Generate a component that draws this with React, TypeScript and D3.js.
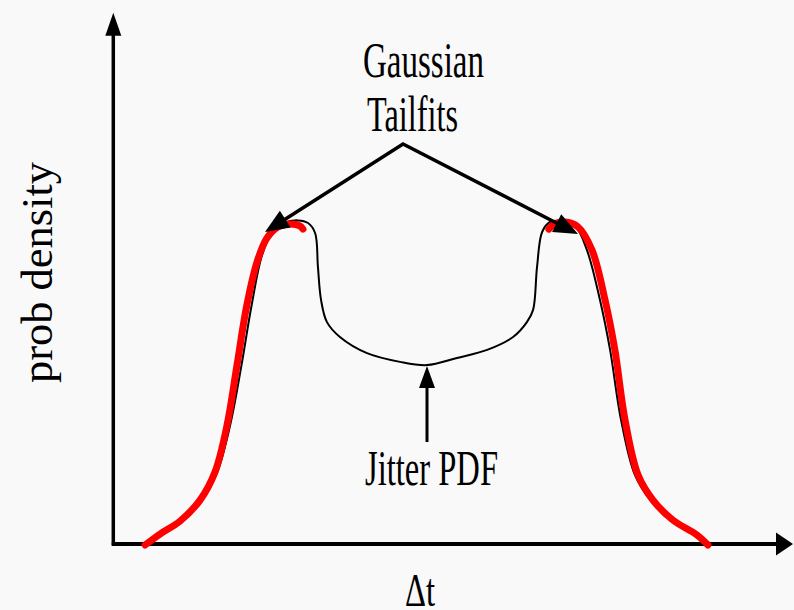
import React from "react";
import * as d3 from "d3";

// Jitter PDF (black) – x in Δt units (-100..100), y in relative density (0..100)
const jitterX = [-99.0, -94.0, -87.0, -79.6, -74.2, -69.6, -65.6, -62.0, -58.3, -54.8, -50.5, -45.6, -42.0, -39.5, -38.5, -37.4, -35.3, -30.7, -21.1, -9.4, 0.2, 10.8, 21.5, 30.7, 35.6, 37.8, 39.2, 41.0, 43.8, 48.0, 52.7, 56.9, 61.5, 65.1, 69.0, 73.9, 79.4, 86.6, 94.8, 99.0];
const jitterY = [0, 3.4, 7.4, 13.9, 22.6, 37.2, 55.7, 74.3, 89.8, 96.6, 99.7, 100.5, 99.7, 96.6, 86.1, 75.9, 69.0, 64.4, 59.4, 56.7, 55.7, 57.9, 60.4, 64.4, 69.0, 72.8, 86.1, 96.9, 100, 100.3, 98.8, 91.3, 75.9, 60.4, 38.7, 21.7, 13.9, 7.7, 3.1, 0];

// Gaussian tail fits (red)
const leftTailX = [-99.8, -94.5, -87.4, -80.3, -75.0, -70.7, -67.2, -63.7, -60.1, -56.6, -52.7, -48.4, -44.9, -43.8];
const leftTailY = [0, 3.4, 7.4, 13.9, 22.6, 37.2, 55.7, 74.3, 87.6, 95.0, 98.5, 99.4, 98.8, 97.8];
const rightTailX = [43.4, 44.9, 49.1, 53.7, 58.7, 63.3, 66.8, 70.4, 75.0, 80.3, 87.4, 95.9, 99.8];
const rightTailY = [97.8, 99.1, 100, 98.5, 91.3, 75.9, 60.4, 38.7, 21.7, 13.9, 7.7, 3.1, 0];

const labels = {
  gauss1: "Gaussian",
  gauss2: "Tailfits",
  jitter: "Jitter PDF",
  xAxis: "Δt",
  yAxis: "prob density",
};

const W = 794;
const H = 610;

const x = d3.scaleLinear().domain([-100, 100]).range([144.5, 708.5]);
const y = d3.scaleLinear().domain([0, 100]).range([545, 222]);

type P = [number, number];

function zipPts(xs: number[], ys: number[]): P[] {
  return xs.map((v, i) => [v, ys[i]] as P);
}

const line = d3
  .line<P>()
  .x((d) => x(d[0]))
  .y((d) => y(d[1]))
  .curve(d3.curveCatmullRom.alpha(0.5));

function arrow(from: P, to: P, len: number, width: number) {
  const dx = to[0] - from[0];
  const dy = to[1] - from[1];
  const L = Math.hypot(dx, dy);
  const ux = dx / L;
  const uy = dy / L;
  const bx = to[0] - ux * len;
  const by = to[1] - uy * len;
  const px = -uy * (width / 2);
  const py = ux * (width / 2);
  const poly = `${to[0]},${to[1]} ${bx + px},${by + py} ${bx - px},${by - py}`;
  return { base: [bx + ux * 2, by + uy * 2] as P, poly };
}

export default function App() {
  const ox = 113.3;
  const oy = 544;
  const yTop: P = [ox, 12.7];
  const xEnd: P = [793, oy];
  const yArrow = arrow([ox, oy], yTop, 23, 16);
  const xArrow = arrow([ox, oy], xEnd, 17, 23);

  const apex: P = [403, 144];
  const tipL: P = [265, 232];
  const tipR: P = [578, 234];
  const aL = arrow(apex, tipL, 24, 20);
  const aR = arrow(apex, tipR, 24, 20);

  const jitFrom: P = [427, 442];
  const jitTip: P = [427, 366];
  const aJ = arrow(jitFrom, jitTip, 22, 16);

  const font = "'Liberation Serif', 'Times New Roman', serif";

  return (
    <svg
      width={W}
      height={H}
      style={{ position: "absolute", left: 0, top: 0, display: "block" }}
    >
      <rect x={0} y={0} width={W} height={H} fill="#f9f9f9" />

      {/* axes */}
      <line x1={ox} y1={oy + 1.5} x2={yArrow.base[0]} y2={yArrow.base[1]} stroke="#000" strokeWidth={3.5} />
      <polygon points={yArrow.poly} fill="#000" />
      <line x1={ox - 1.5} y1={oy} x2={xArrow.base[0]} y2={xArrow.base[1]} stroke="#000" strokeWidth={3.8} />
      <polygon points={xArrow.poly} fill="#000" />

      {/* jitter pdf */}
      <path d={line(zipPts(jitterX, jitterY)) || ""} fill="none" stroke="#000" strokeWidth={2} />

      {/* gaussian tail fits */}
      <path d={line(zipPts(leftTailX, leftTailY)) || ""} fill="none" stroke="#ff0000" strokeWidth={7} strokeLinecap="round" strokeLinejoin="round" />
      <path d={line(zipPts(rightTailX, rightTailY)) || ""} fill="none" stroke="#ff0000" strokeWidth={7} strokeLinecap="round" strokeLinejoin="round" />

      {/* annotation arrows */}
      <polyline
        points={`${aL.base[0]},${aL.base[1]} ${apex[0]},${apex[1]} ${aR.base[0]},${aR.base[1]}`}
        fill="none"
        stroke="#000"
        strokeWidth={3.5}
        strokeLinejoin="miter"
      />
      <polygon points={aL.poly} fill="#000" />
      <polygon points={aR.poly} fill="#000" />
      <line x1={jitFrom[0]} y1={jitFrom[1]} x2={aJ.base[0]} y2={aJ.base[1]} stroke="#000" strokeWidth={3} />
      <polygon points={aJ.poly} fill="#000" />

      {/* texts */}
      <g fontFamily={font} fill="#000">
        <text x={363} y={76.5} fontSize={50} textLength={121} lengthAdjust="spacingAndGlyphs">
          {labels.gauss1}
        </text>
        <text x={367} y={131} fontSize={50} textLength={91} lengthAdjust="spacingAndGlyphs">
          {labels.gauss2}
        </text>
        <text x={365} y={485} fontSize={50} textLength={133} lengthAdjust="spacingAndGlyphs">
          {labels.jitter}
        </text>
        <text x={405} y={606} fontSize={46} textLength={30} lengthAdjust="spacingAndGlyphs">
          {labels.xAxis}
        </text>
        <text
          transform="translate(52,272.5) rotate(-90)"
          textAnchor="middle"
          fontSize={44}
          textLength={221}
          lengthAdjust="spacingAndGlyphs"
        >
          {labels.yAxis}
        </text>
      </g>
    </svg>
  );
}
